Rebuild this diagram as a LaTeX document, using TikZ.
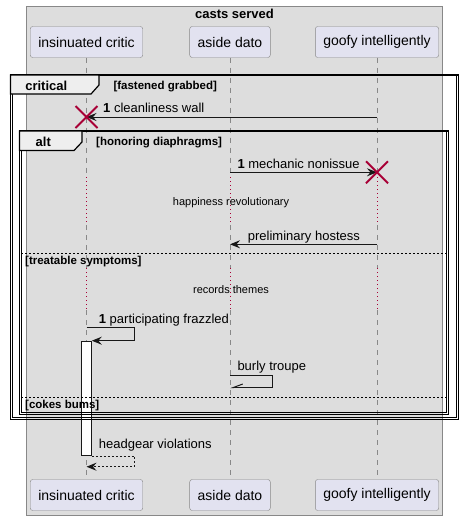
\documentclass[tikz,border=0pt]{standalone}
\usepackage{fontspec}
\setmainfont{Liberation Sans}
\usetikzlibrary{arrows.meta,shapes.misc}
\definecolor{boxgrey}{HTML}{DDDDDD}
\definecolor{edgegrey}{HTML}{888888}
\definecolor{actorfill}{HTML}{E2E2F0}
\definecolor{crimson}{HTML}{A80036}
\definecolor{tabgrey}{HTML}{EEEEEE}
\definecolor{ink}{HTML}{181818}

\begin{document}
\begin{tikzpicture}
 [x=1pt,y=-1pt,
   every node/.style={inner sep=0pt,text=black},
   actor/.style={draw=edgegrey,fill=actorfill,rounded corners=2.5pt,inner xsep=8pt,
     minimum height=31pt,font=\fontsize{14}{16}\selectfont},
   life/.style={edgegrey,line width=0.8pt,dash pattern=on 5pt off 5pt},
   delayline/.style={crimson,line width=1pt,dash pattern=on 1.2pt off 2.8pt},
   msg/.style={ink,line width=1pt,-{Stealth[length=10pt,width=8pt,inset=3.5pt]}},
   halfmsg/.style={ink,line width=1pt,-{Straight Barb[right,length=10pt,width=7.4pt]}},
   reply/.style={msg,dash pattern=on 2pt off 2pt},
   msgtext/.style={anchor=base west,font=\fontsize{13}{15}\selectfont},
   delaytext/.style={anchor=base,font=\fontsize{11}{13}\selectfont},
   guard/.style={anchor=base west,font=\bfseries\fontsize{11.5}{13}\selectfont},
   kind/.style={anchor=base,font=\bfseries\fontsize{13}{15}\selectfont},
   groupframe/.style={black,line width=1.5pt},
   groupinner/.style={black,line width=0.9pt},
   tab/.style={fill=tabgrey,draw=black,line width=1.2pt},
   sep/.style={black,line width=0.8pt,dash pattern=on 2pt off 2pt},
   kill/.style={draw=crimson,cross out,line width=2pt,minimum size=20pt}]
  \fill[white] (0,0) rectangle (463,520);
  \useasboundingbox (0,0) rectangle (463,520);
  \draw[edgegrey,fill=boxgrey] (26.5,6.5) rectangle (442.5,515);
  \node[kind] (boxtitle) at (234.5,18.5) {casts served};

  \node[actor] (crit) at (86.5,42) {insinuated critic};
  \node[actor] (dato) at (230,42) {aside dato};
  \node[actor] (goofy) at (377,42) {goofy intelligently};
  \node[actor] (crit-b) at (86.5,495) {insinuated critic};
  \node[actor] (dato-b) at (230,495) {aside dato};
  \node[actor] (goofy-b) at (377,495) {goofy intelligently};

  \coordinate (d1a) at (0,177);
  \coordinate (d1b) at (0,225);
  \coordinate (d2a) at (0,268);
  \coordinate (d2b) at (0,310);
  \foreach \p in {crit,dato,goofy} {
    \draw[life] (\p) -- (\p |- d1a);
    \draw[delayline] (\p |- d1a) -- (\p |- d1b);
    \draw[life] (\p |- d1b) -- (\p |- d2a);
    \draw[delayline] (\p |- d2a) -- (\p |- d2b);
    \draw[life] (\p |- d2b) -- (\p-b);
  }
  \node[draw=ink,fill=white,line width=1pt,minimum width=10pt,minimum height=114.3pt,
    anchor=north] (act) at (86.3,340.7) {};

  \draw[groupframe] (10.5,75) rectangle (458.5,419.5);
  \draw[groupinner] (12.5,75) -- (12.5,417.5) -- (456.5,417.5) -- (456.5,75);
  \draw[tab] (10.5,75) -- (99,75) -- (99,85) -- (91,94) -- (10.5,94) -- cycle;
  \node[kind] (critical) at (46.3,90) {critical};
  \node[guard] (g1) at (113.3,89) {[fastened grabbed]};

  \draw[groupframe] (19.5,131) rectangle (448.5,414.5);
  \draw[groupinner] (21.3,131) -- (21.3,412.5) -- (446.7,412.5) -- (446.7,131);
  \draw[tab] (19.5,131) -- (82,131) -- (82,142) -- (74,150.5) -- (19.5,150.5) -- cycle;
  \node[kind] (alt) at (43.3,146) {alt};
  \node[guard] (g2) at (96,145.5) {[honoring diaphragms]};
  \draw[sep] (21.3,253.3) -- (446.7,253.3);
  \node[guard] (g3) at (25,264.5) {[treatable symptoms]};
  \draw[sep] (21.3,397.3) -- (446.7,397.3);
  \node[guard] (g4) at (25,408.5) {[cokes bums]};

  \coordinate (m1) at (0,117);
  \draw[msg] (goofy |- m1) -- (crit |- m1);
  \node[msgtext] (t1) at (103,112) {\textbf{1} cleanliness wall};
  \node[kill] (x1) at (crit |- m1) {};

  \coordinate (m2) at (0,172.3);
  \draw[msg] (dato |- m2) -- (goofy |- m2);
  \node[msgtext] (t2) at (237.3,168) {\textbf{1} mechanic nonissue};
  \node[kill] (x2) at (goofy |- m2) {};

  \node[delaytext] (pause1) at (231,205.3) {happiness revolutionary};

  \coordinate (m3) at (0,244.3);
  \draw[msg] (goofy |- m3) -- (dato |- m3);
  \node[msgtext] (t3) at (247.7,240.3) {preliminary hostess};

  \node[delaytext] (pause2) at (231,293.7) {records themes};

  \coordinate (m4) at (0,327.3);
  \draw[msg] (crit |- m4) -- ++(47.5,0) |- (act.north east);
  \node[msgtext] (t4) at (98.7,323.3) {\textbf{1} participating frazzled};

  \coordinate (m5) at (0,375.7);
  \coordinate (m5b) at (0,387.7);
  \draw[halfmsg] (dato |- m5) -- ++(42,0) |- (dato |- m5b);
  \node[msgtext] (t5) at (237.3,370.7) {burly troupe};

  \coordinate (m6) at (0,466.7);
  \draw[reply] (act.south east) -- ++(42.7,0) |- (crit |- m6);
  \node[msgtext] (t6) at (98.7,448.5) {headgear violations};
\end{tikzpicture}
\end{document}
